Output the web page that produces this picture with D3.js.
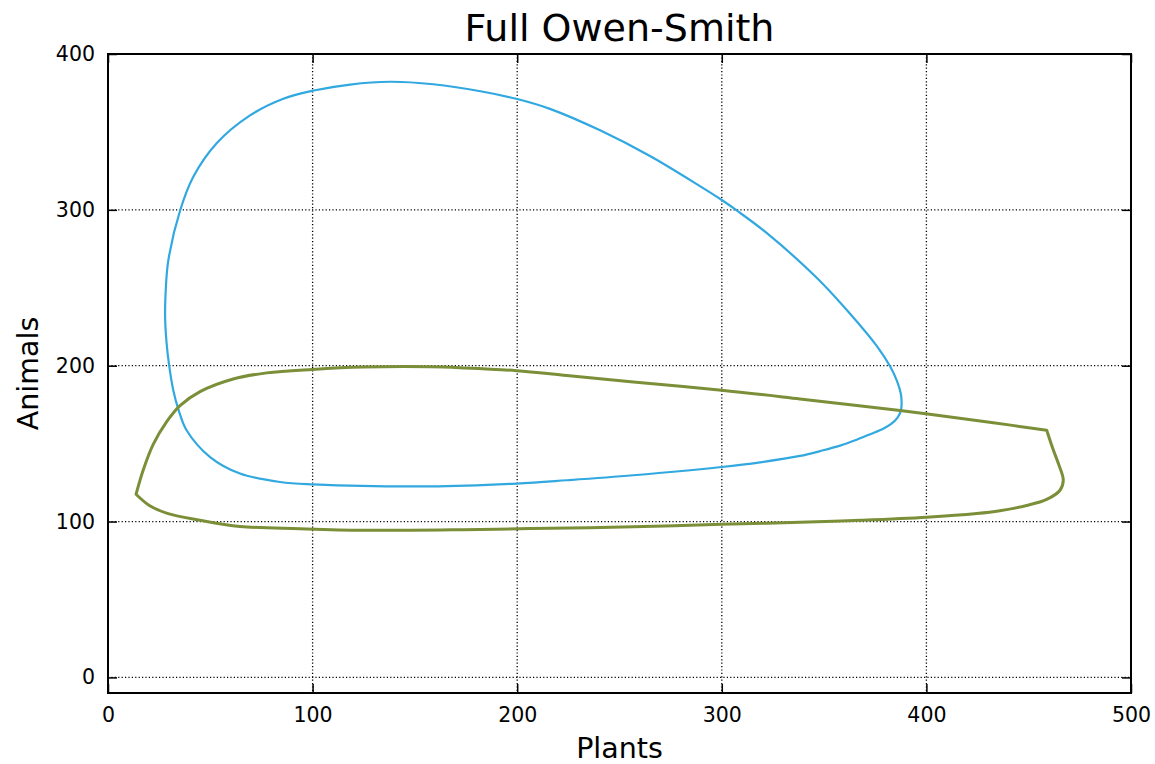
<!DOCTYPE html>
<html>
<head>
<meta charset="utf-8">
<script src="https://cdn.jsdelivr.net/npm/d3@7/dist/d3.min.js"></script>
<style>
  html, body { margin: 0; padding: 0; background: #fff; }
  svg text { font-family: "DejaVu Sans", sans-serif; fill: #000; }
</style>
</head>
<body>
<svg id="chart" width="1155" height="764"></svg>
<script>
// Phase-plane trajectories: [plants, animals]
// Closed orbit (smooth)
const blueOrbit = [
  [137.8,382.2],[159,380.6],[183.4,375.8],[200,371.1],[216,364.8],[240.5,351],
  [264.9,334.5],[289.3,315.2],[300,306.3],[307.3,299.6],[321.9,285.2],[346.4,256.4],
  [362.7,233.3],[375.7,212.7],[382.3,199.5],[385.7,190],[387.5,182],[387.9,176],
  [387.5,171],[385.8,166.5],[382.8,162.6],[378.9,159.6],[372.8,156.2],[365.9,152.5],
  [357.8,148.7],[348,145.2],[338.2,142.1],[318.7,138],[299.9,135],[256.7,129.7],
  [224.2,126.5],[199.8,124.4],[157.4,122.6],[100.3,123.9],[84.1,125.4],[64.5,130.8],
  [49.9,141.4],[38.4,158.6],[34.4,172],[31.9,184.3],[29.9,200],[28.6,215],
  [27.9,232],[28.2,248],[29.5,267.7],[35.2,299.4],[41.7,321.2],[53.1,342.7],
  [69.4,360.6],[85.7,371.3],[99.9,376.4],[118.3,380.4]
];
// Second orbit: upper branch (left cusp -> right corner)
const greenUpper = [
  [13.7,117.5],[17.3,133.4],[22.1,149.5],[28.7,164.1],[35.2,174.4],[45,183.4],
  [61.2,191.5],[77.6,195.4],[99.9,197.6],[124.8,199.1],[157.4,199.3],[173.7,198.6],
  [199.7,196.8],[224.2,193.7],[256.8,189.5],[299.9,184.3],[338.2,178.7],[387.1,171.2],
  [432.7,163.4],[458.8,158.6]
];
// Second orbit: return branch (right corner -> left cusp)
const greenLower = [
  [458.8,158.6],[462,146],[464.5,137.2],[466.9,126.5],[465.3,120.1],[458.8,114.2],
  [449,110.3],[435.9,107],[424.6,105.2],[400.1,102.8],[367.5,100.8],[354.5,100.2],
  [299.9,98.2],[256.8,96.6],[206.3,95.5],[173.7,94.8],[124.8,94.4],[93.8,95.4],
  [64.5,96.9],[44.9,100.9],[28.6,105.4],[20,110.5],[13.7,117.5]
];
const xTicks = [0, 100, 200, 300, 400, 500];
const yTicks = [0, 100, 200, 300, 400];
const titleText = "Full Owen-Smith";
const xLabel = "Plants";
const yLabel = "Animals";

const svg = d3.select("#chart");
const plotLeft = 108, plotRight = 1131, plotTop = 54, plotBottom = 693;

const x = d3.scaleLinear().domain([0, 500]).range([plotLeft, plotRight]);
const y = d3.scaleLinear().domain([-10, 400]).range([plotBottom, plotTop]);

// dotted grid
const grid = svg.append("g");
grid.selectAll("line.gx").data(xTicks).join("line")
  .attr("x1", d => x(d)).attr("x2", d => x(d))
  .attr("y1", plotTop).attr("y2", plotBottom)
  .attr("stroke", "#000").attr("stroke-width", 1.3)
  .attr("stroke-dasharray", "1.2,2.2");
grid.selectAll("line.gy").data(yTicks).join("line")
  .attr("y1", d => y(d)).attr("y2", d => y(d))
  .attr("x1", plotLeft).attr("x2", plotRight)
  .attr("stroke", "#000").attr("stroke-width", 1.3)
  .attr("stroke-dasharray", "1.2,2.2");

// trajectories
svg.append("clipPath").attr("id", "plotClip")
  .append("rect").attr("x", plotLeft).attr("y", plotTop)
  .attr("width", plotRight - plotLeft).attr("height", plotBottom - plotTop);

const plot = svg.append("g").attr("clip-path", "url(#plotClip)");

plot.append("path")
  .datum(blueOrbit)
  .attr("fill", "none")
  .attr("stroke", "#31a8e0")
  .attr("stroke-width", 2.2)
  .attr("d", d3.line().x(d => x(d[0])).y(d => y(d[1])).curve(d3.curveCatmullRomClosed.alpha(0.5)));

// green orbit: two smooth branches meeting at sharp corners
const greenLine = d3.line().x(d => x(d[0])).y(d => y(d[1])).curve(d3.curveCatmullRom.alpha(0.5));
plot.append("path")
  .attr("fill", "none")
  .attr("stroke", "#7b8f38")
  .attr("stroke-width", 3)
  .attr("stroke-linejoin", "round")
  .attr("d", greenLine(greenUpper) + greenLine(greenLower).replace(/^M[^C L]*/, "L" + x(greenLower[0][0]) + "," + y(greenLower[0][1])) + "Z");

// axes with inward ticks on all sides
const tickLen = 9;
const fmt = d3.format("d");
const bottomAxis = svg.append("g").attr("transform", `translate(0,${plotBottom})`)
  .call(d3.axisBottom(x).tickValues(xTicks).tickSize(-tickLen).tickPadding(14).tickFormat(fmt));
const topAxis = svg.append("g").attr("transform", `translate(0,${plotTop})`)
  .call(d3.axisTop(x).tickValues(xTicks).tickSize(-tickLen).tickFormat(""));
const leftAxis = svg.append("g").attr("transform", `translate(${plotLeft},0)`)
  .call(d3.axisLeft(y).tickValues(yTicks).tickSize(-tickLen).tickPadding(13).tickFormat(fmt));
const rightAxis = svg.append("g").attr("transform", `translate(${plotRight},0)`)
  .call(d3.axisRight(y).tickValues(yTicks).tickSize(-tickLen).tickFormat(""));

[bottomAxis, topAxis, leftAxis, rightAxis].forEach(g => {
  g.select(".domain").remove();
  g.selectAll(".tick line").attr("stroke", "#000").attr("stroke-width", 1.5);
  g.selectAll(".tick text").attr("font-size", 20.5).attr("font-family", "DejaVu Sans").attr("fill", "#000");
});

// frame
svg.append("rect")
  .attr("x", plotLeft).attr("y", plotTop)
  .attr("width", plotRight - plotLeft).attr("height", plotBottom - plotTop)
  .attr("fill", "none").attr("stroke", "#000").attr("stroke-width", 2);

// title and axis labels
svg.append("text")
  .attr("x", (plotLeft + plotRight) / 2).attr("y", 41)
  .attr("text-anchor", "middle").attr("font-size", 38)
  .text(titleText);

svg.append("text")
  .attr("x", (plotLeft + plotRight) / 2).attr("y", 758)
  .attr("text-anchor", "middle").attr("font-size", 28.5)
  .text(xLabel);

svg.append("text")
  .attr("transform", `translate(38,${(plotTop + plotBottom) / 2}) rotate(-90)`)
  .attr("text-anchor", "middle").attr("font-size", 28.5)
  .text(yLabel);
</script>
</body>
</html>
